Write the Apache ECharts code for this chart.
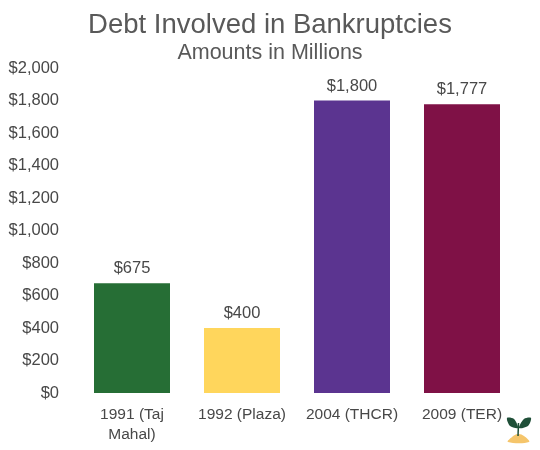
<!DOCTYPE html>
<html><head><meta charset="utf-8">
<style>html,body{margin:0;padding:0;background:#fff}#c{width:540px;height:450px}</style>
<script src="https://cdn.jsdelivr.net/npm/echarts@6/dist/echarts.min.js"></script></head>
<body><div id="c"></div>
<script>
var categories = ["1991 (Taj\nMahal)", "1992 (Plaza)", "2004 (THCR)", "2009 (TER)"];
var values = [675, 400, 1800, 1777];
var colors = ["#266E35", "#FFD65C", "#5B3490", "#7F1146"];
var font = "Liberation Sans";
var money = function(v){return '$'+Number(v).toLocaleString('en-US');};
var chart = echarts.init(document.getElementById('c'));
chart.setOption({
  animation:false,
  backgroundColor:'#fff',
  title:{text:'Debt Involved in Bankruptcies',subtext:'Amounts in Millions',left:'center',top:6,itemGap:3,
    textStyle:{fontFamily:font,fontSize:27.5,fontWeight:'normal',color:'#595959'},
    subtextStyle:{fontFamily:font,fontSize:21.5,color:'#595959'}},
  grid:{left:77,right:23,top:68,bottom:57},
  xAxis:{type:'category',data:categories,axisTick:{show:false},axisLine:{show:false},
    axisLabel:{fontFamily:font,fontSize:15.5,color:'#484848',lineHeight:20,margin:12,interval:0}},
  yAxis:{type:'value',min:0,max:2000,interval:200,splitLine:{show:false},axisLine:{show:false},axisTick:{show:false},
    axisLabel:{fontFamily:font,fontSize:16.5,color:'#484848',margin:18,formatter:money}},
  series:[{type:'bar',barWidth:76,data:values.map(function(v,i){return {value:v,itemStyle:{color:colors[i]}};}),
    label:{show:true,position:'top',distance:6,fontFamily:font,fontSize:16.5,color:'#484848',formatter:function(p){return money(p.value);}}}],
  graphic:[
    {type:'polygon',shape:{smooth:0.4,points:[[508,442],[512,437],[518,434],[524,436],[529,442]]},style:{fill:'#F5C56B'}},
    {type:'line',shape:{x1:518,y1:436,x2:518.5,y2:423},style:{stroke:'#1F4F38',lineWidth:1.5}},
    {type:'polygon',shape:{smooth:0.3,points:[[507,418],[514,419],[518,428],[510,426]]},style:{fill:'#1F4F38'}},
    {type:'polygon',shape:{smooth:0.3,points:[[531,418],[524,419],[519,428],[528,426]]},style:{fill:'#1F4F38'}}
  ]
});
</script></body></html>
